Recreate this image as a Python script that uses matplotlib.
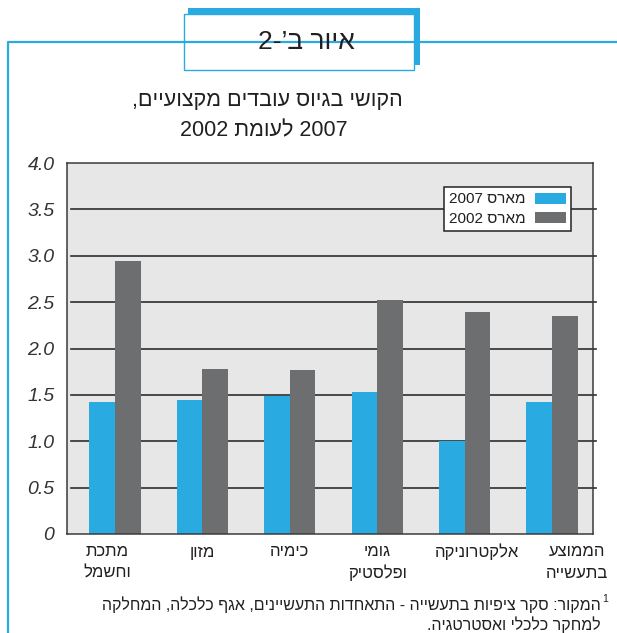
import re

import matplotlib

matplotlib.use("Agg")
import matplotlib.pyplot as plt
import matplotlib.transforms as mtransforms
from matplotlib.patches import Rectangle
import numpy as np

BLUE = "#29abe2"
GRAY = "#6d6e70"
TEXT = "#231f20"
FONTS = ["Liberation Sans", "DejaVu Sans"]

categories = ["מתכת\nוחשמל", "מזון", "כימיה", "גומי\nופלסטיק", "אלקטרוניקה", "הממוצע\nבתעשייה"]
march_2007 = [1.42, 1.45, 1.49, 1.53, 1.00, 1.42]
march_2002 = [2.94, 1.78, 1.77, 2.52, 2.39, 2.35]
series_labels = ["מארס 2007", "מארס 2002"]
y_ticks = [0, 0.5, 1.0, 1.5, 2.0, 2.5, 3.0, 3.5, 4.0]
y_tick_labels = ["0", "0.5", "1.0", "1.5", "2.0", "2.5", "3.0", "3.5", "4.0"]
figure_tag = "איור ב’-2"
title_lines = ["הקושי בגיוס עובדים מקצועיים,", "2007 לעומת 2002"]
source_lines = ["המקור: סקר ציפיות בתעשייה - התאחדות התעשיינים, אגף כלכלה, המחלקה",
                "למחקר כלכלי ואסטרטגיה."]


def rtl(text: str) -> str:
    # matplotlib has no bidi support: flip each line, keep digit runs in order
    out = []
    for line in text.split("\n"):
        tokens = re.findall(r"[0-9]+|[^0-9]", line)
        out.append("".join(reversed(tokens)))
    return "\n".join(out)


plt.rcParams["font.family"] = FONTS

W, H = 617, 633
fig = plt.figure(figsize=(W / 100, H / 100), dpi=100)

# main bar axes, placed in pixel terms
ax_l, ax_r, ax_t, ax_b = 67, 593, 163, 534
ax = fig.add_axes([ax_l / W, 1 - ax_b / H, (ax_r - ax_l) / W, (ax_b - ax_t) / H])
ax.set_facecolor("#e7e7e7")

x = np.arange(len(categories))
width = 0.292
ax.bar(x - width / 2, march_2007, width, color=BLUE, label=rtl(series_labels[0]), zorder=2)
ax.bar(x + width / 2, march_2002, width, color=GRAY, label=rtl(series_labels[1]), zorder=2)

for y in y_ticks[1:-1]:
    ax.axhline(y, xmin=0.008, xmax=1.006, color="#2e2e2e", lw=1.2, zorder=1, clip_on=False)

x_lo, x_hi = -0.549, 5.469
ax.set_xlim(x_lo, x_hi)
ax.set_ylim(0, 4.0)
ax.set_yticks(y_ticks)
ax.set_yticklabels(y_tick_labels, fontstyle="italic", fontsize=14, color="#333333")
offset = mtransforms.ScaledTranslation(0, -3 / 100, fig.dpi_scale_trans)
for lab in ax.get_yticklabels():
    lab.set_transform(lab.get_transform() + offset)
ax.tick_params(axis="y", length=0, pad=9)
ax.set_xticks([])
for side in ax.spines.values():
    side.set_color("#3a3a3a")
    side.set_linewidth(1.1)

leg = ax.legend(loc="upper right", bbox_to_anchor=(0.958, 0.935), markerfirst=False,
                fontsize=11, frameon=True, fancybox=False, framealpha=1,
                edgecolor="#222222", handlelength=2.0, handleheight=0.75,
                borderpad=0.35, labelspacing=0.35, handletextpad=0.6, borderaxespad=0)
leg.get_frame().set_linewidth(1.1)
for t in leg.get_texts():
    t.set_color(TEXT)

# overlay in pixel coordinates for frame, headings and notes
ov = fig.add_axes([0, 0, 1, 1])
ov.set_xlim(0, W)
ov.set_ylim(H, 0)
ov.axis("off")
ov.patch.set_visible(False)

ov.plot([8, 8, W], [H, 42, 42], color=BLUE, lw=1.6, solid_capstyle="butt")
ov.add_patch(Rectangle((188, 8), 232, 57, facecolor=BLUE, edgecolor="none"))
ov.add_patch(Rectangle((184, 14), 230, 56, facecolor="white", edgecolor=BLUE, lw=1.0))
ov.text(306, 42, rtl(figure_tag), ha="center", va="center", fontsize=19, color=TEXT)

ov.text(267, 100, rtl(title_lines[0]), ha="center", va="center", fontsize=15.5, color=TEXT)
ov.text(264, 131, rtl(title_lines[1]), ha="center", va="center", fontsize=15.5, color=TEXT)

# labels sit a little right of the group centre in the original
label_shift = [-8, 0, 0, 0, 12, 25]
for i, name in enumerate(categories):
    px = ax_l + (x[i] - x_lo) / (x_hi - x_lo) * (ax_r - ax_l) + label_shift[i]
    for j, line in enumerate(rtl(name).split("\n")):
        ov.text(px, 552 + j * 21, line, ha="center", va="center", fontsize=12, color=TEXT)

ov.text(601, 605, rtl(source_lines[0]), ha="right", va="center", fontsize=11.5, color=TEXT)
ov.text(602, 599, "1", ha="left", va="center", fontsize=7.5, color=TEXT)
ov.text(601, 625, rtl(source_lines[1]), ha="right", va="center", fontsize=11.5, color=TEXT)

fig.savefig("out.png", dpi=100)
